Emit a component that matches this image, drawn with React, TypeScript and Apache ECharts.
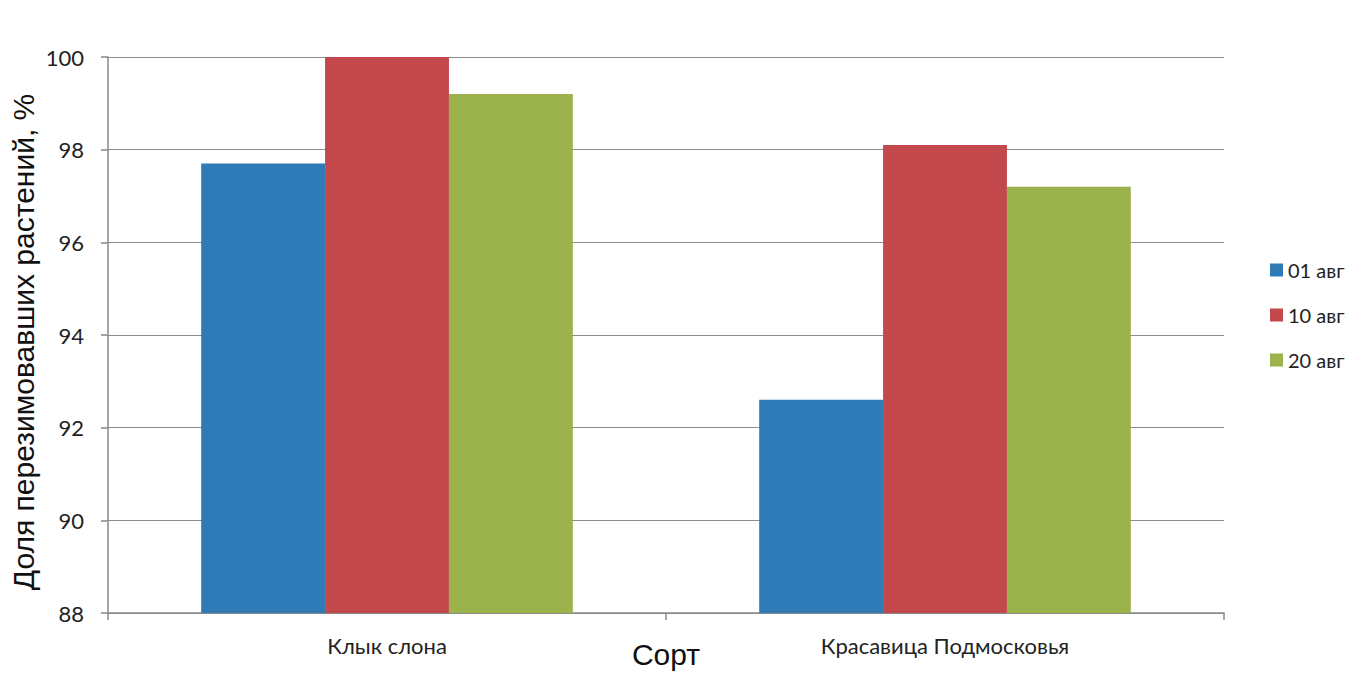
import React, { useEffect, useRef } from "react";
import * as echarts from "echarts";

const categories = ["Клык слона", "Красавица Подмосковья"];
const seriesNames = ["01 авг", "10 авг", "20 авг"];
const values01 = [97.7, 92.6];
const values10 = [100, 98.1];
const values20 = [99.2, 97.2];
const colors = ["#2e7bb7", "#c2484b", "#9cb24d"];

export default function App() {
  const ref = useRef<HTMLDivElement>(null);
  useEffect(() => {
    document.body.style.margin = "0";
    const chart = echarts.init(ref.current!, null, { renderer: "svg" });
    const data = [values01, values10, values20];
    chart.setOption({
      animation: false,
      backgroundColor: "#ffffff",
      color: colors,
      grid: { left: 108, right: 136, top: 57, bottom: 62, outerBoundsMode: "none" },
      legend: {
        orient: "vertical",
        left: 1265,
        top: 255,
        itemWidth: 13,
        itemHeight: 13,
        itemGap: 25,
        icon: "rect",
        textStyle: { fontFamily: "Lato", fontSize: 20, color: "#222" },
        data: seriesNames,
      },
      xAxis: {
        type: "category",
        data: categories,
        name: "Сорт",
        nameLocation: "middle",
        nameGap: 26,
        nameMoveOverlap: false,
        nameTextStyle: { fontFamily: "Liberation Sans", fontSize: 30, color: "#111" },
        axisLine: { lineStyle: { color: "#8a8a8a", width: 1.5 } },
        axisTick: { show: true, length: 7, lineStyle: { color: "#8a8a8a", width: 1.5 } },
        axisLabel: { margin: 21, fontFamily: "Lato", fontSize: 22, color: "#222" },
      },
      yAxis: {
        type: "value",
        min: 88,
        max: 100,
        interval: 2,
        name: "Доля перезимовавших растений, %",
        nameLocation: "middle",
        nameGap: 70,
        nameMoveOverlap: false,
        nameTextStyle: { fontFamily: "Liberation Sans", fontSize: 30, color: "#111", padding: [0, 14, 0, 0] },
        axisLine: { show: true, lineStyle: { color: "#8a8a8a", width: 1.5 } },
        axisTick: { show: true, length: 7, lineStyle: { color: "#8a8a8a", width: 1.5 } },
        axisLabel: { margin: 24, fontFamily: "Lato", fontSize: 22, color: "#222" },
        splitLine: { lineStyle: { color: "#8c8c8c", width: 1.2 } },
      },
      series: seriesNames.map((name, i) => ({
        name,
        type: "bar",
        data: data[i],
        barGap: "0%",
        barCategoryGap: "33.4%",
        itemStyle: { color: colors[i] },
      })),
    });
    return () => chart.dispose();
  }, []);
  return <div ref={ref} style={{ width: 1360, height: 675 }} />;
}
